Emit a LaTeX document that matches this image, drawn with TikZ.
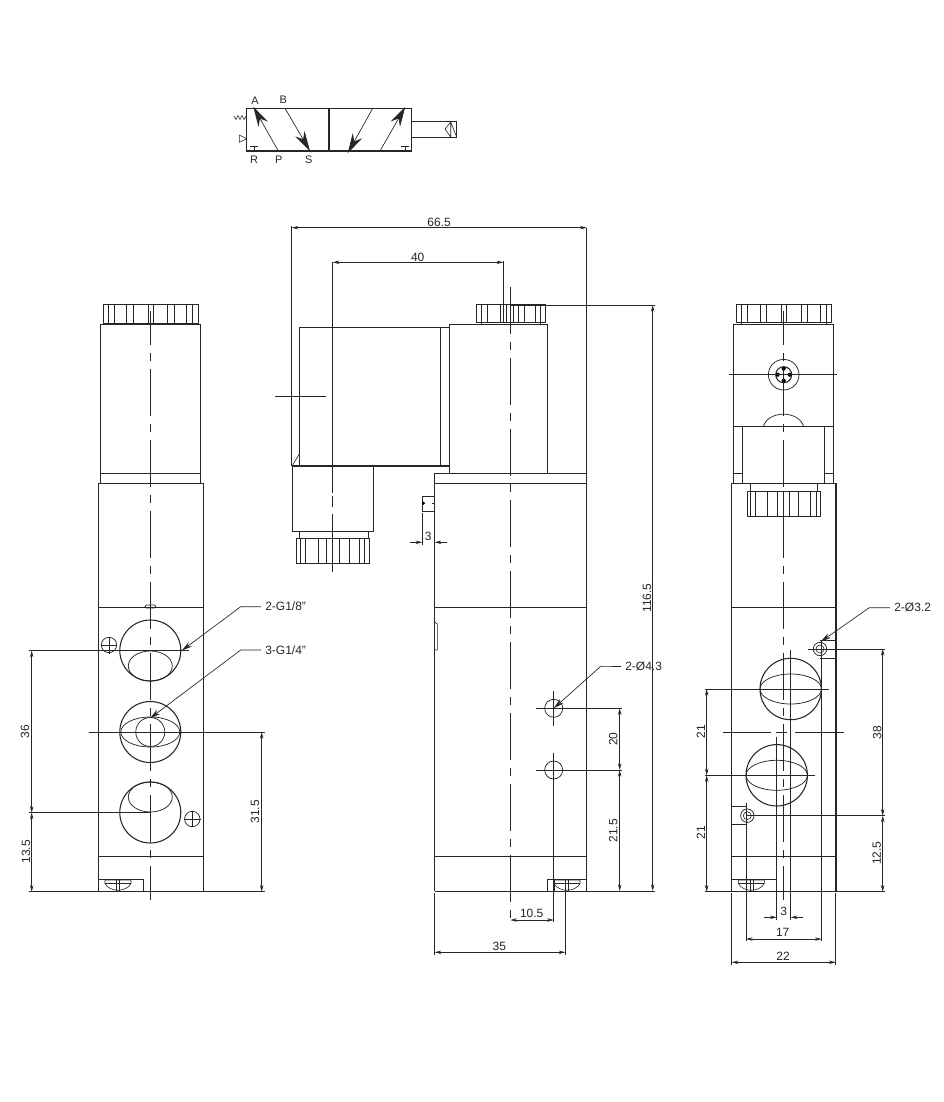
\documentclass[tikz,border=0pt]{standalone}
\usepackage{fontspec}
\setmainfont{Liberation Sans}
\usetikzlibrary{arrows.meta}
\tikzset{
  lbl/.style={font=\fontsize{9}{10}\selectfont,inner sep=0pt,text=black!85},
  sym/.style={font=\fontsize{8.2}{10}\selectfont,inner sep=0pt,text=black!85},
  ln/.style={line width=.55pt,draw=black!85},
  hv/.style={line width=.8pt,draw=black!85},
  thinl/.style={line width=.45pt,draw=black!85},
  ctr/.style={line width=.55pt,draw=black!85,dash pattern=on 35.25pt off 6pt on 6pt off 6pt},
  dimn/.style={line width=.5pt,draw=black!85,{Stealth[length=5pt,width=2.6pt]}-{Stealth[length=5pt,width=2.6pt]}},
  tipe/.style={line width=.5pt,draw=black!85,-{Stealth[length=5pt,width=2.6pt]}},
  lead/.style={line width=.5pt,draw=black!85,{Stealth[length=8pt,width=4pt]}-},
  flow/.style={line width=.5pt,draw=black!85,-{Stealth[length=15pt,width=8pt]}},
}
\newcommand{\myscrew}[1]{%
  \draw[thinl] (#1-13,880) -- (#1+13,880) -- (#1+13,883.5) .. controls (#1+8,892.5) and (#1-8,892.5) .. (#1-13,883.5) -- cycle;
  \draw[thinl] (#1-13,883.5) -- (#1+13,883.5) (#1-1.5,880) -- (#1-1.5,891) (#1+1.5,880) -- (#1+1.5,891);
}
\newcommand{\myhole}[3]{%
  \draw[ln] (#1,#2) circle[radius=#3];
}
\begin{document}
\begin{tikzpicture}[x=.75pt,y=-.75pt]
\useasboundingbox (0,0) rectangle (944,1102);
\fill[white] (0,0) rectangle (944,1102);

% ---------- symbol ----------
\draw[hv] (246.7,108.3) rectangle (411.7,151);
\draw[hv] (329,108.3) -- (329,151);
\draw[flow] (278.3,151) -- (253.3,106.7);
\draw[flow] (285,108.3) -- (310,151);
\draw[flow] (372.7,108.3) -- (347.7,153.3);
\draw[flow] (380,151) -- (405.3,106.7);
\draw[thinl] (250,146.7) -- (257.7,146.7) (253.8,146.7) -- (253.8,151);
\draw[thinl] (401,146.7) -- (409,146.7) (405,146.7) -- (405,151);
\draw[thinl] (234,116) -- (236,119.5) -- (238,115.5) -- (240,119.5) -- (242,115.5) -- (244,119.5) -- (246.7,115.5);
\draw[thinl] (239.3,135) -- (246.7,138.7) -- (239.3,142.3) -- cycle;
\draw[ln] (411.7,121.7) rectangle (456.7,137.3);
\draw[thinl] (450.7,122) -- (445,129) -- (450.7,137) (450.7,122) -- (450.7,137) (450.7,122) -- (456.7,137);
\node[sym] (tA) at (255,100.3) {A};
\node[sym] (tB) at (283.3,100) {B};
\node[sym] (tR) at (254,159.7) {R};
\node[sym] (tP) at (278.7,160) {P};
\node[sym] (tS) at (308.7,159.7) {S};

% ---------- left view ----------
\draw[ln] (103,304.3) rectangle (198,323);
\foreach \x in {108.3,114.3,126.7,133.3,148.3,153.3,167.7,174.3,186.7,192.3}
  \draw[thinl] (\x,304.3) -- (\x,323);
\draw[thinl] (103,323) -- (108.3,323) (108.3,323) -- (108.3,325) (192.3,323) -- (192.3,325);
\draw[ln] (100.7,483.3) -- (100.7,324.3) -- (200.7,324.3) -- (200.7,483.3);
\draw[ln] (100.7,473.3) -- (200.7,473.3);
\draw[hv] (98.3,891.7) -- (98.3,483.3) -- (203.3,483.3) -- (203.3,891.7);
\draw[ln] (98.3,607.7) -- (203.3,607.7) (98.3,856.7) -- (203.3,856.7);
\draw[thinl,rounded corners=1pt] (145,605) rectangle (155.7,608);
\draw[thinl] (98.3,879.3) -- (143.7,879.3) -- (143.7,891.7);
\myscrew{118}
\draw[ctr,dash phase=9.5pt] (150.3,310.7) -- (150.3,900);
% ports
\draw[hv] (150.3,650.5) circle[radius=30.5];
\draw[ln] (150.3,666) ellipse[x radius=22,y radius=15];
\draw[hv] (150.3,732) circle[radius=30.5];
\draw[ln] (150.3,732) ellipse[x radius=29.5,y radius=15];
\draw[ln] (150.3,732) circle[radius=14.5];
\draw[hv] (150.3,812.5) circle[radius=30.5];
\draw[ln] (150.3,797) ellipse[x radius=22,y radius=15];
\draw[ln] (109,645) circle[radius=7.7];
\draw[thinl] (101,645) -- (117,645) (109,636.7) -- (109,654);
\draw[ln] (192.3,819) circle[radius=7.7];
\draw[thinl] (184,819) -- (200.5,819) (192.3,810.5) -- (192.3,827);
% left extension + dims
\draw[ln] (29,650.7) -- (189,650.7);
\draw[ln] (29,812.7) -- (150.3,812.7);
\draw[ln] (29,891.7) -- (265,891.7);
\draw[ln] (89,732) -- (211.7,732);
\draw[ln] (150.3,732) -- (265,732);
\draw[dimn] (31.7,650.7) -- (31.7,812.7);
\draw[dimn] (31.7,812.7) -- (31.7,891.7);
\draw[dimn] (261.7,732) -- (261.7,891.7);
\node[lbl,rotate=90] (d36) at (25,731.7) {36};
\node[lbl,rotate=90] (d135) at (26,851.7) {13.5};
\node[lbl,rotate=90] (d315) at (255,811.7) {31.5};
\coordinate (t18) at (181.7,650.7);
\coordinate (m18) at (240.7,606.7);
\node[lbl,anchor=west] (l18) at (265,606.7) {2-G1/8"};
\draw[lead] (t18) -- (m18) -- ([xshift=-3pt]l18.west);
\coordinate (t14) at (150,718.3);
\coordinate (m14) at (240.7,650);
\node[lbl,anchor=west] (l14) at (265,650) {3-G1/4"};
\draw[lead] (t14) -- (m14) -- ([xshift=-3pt]l14.west);

% ---------- middle view ----------
\draw[ln] (476.7,304.7) rectangle (545.3,322.7);
\foreach \x in {481.7,487.3,500,503,506,513,518.5,524,535.5,540.5}
  \draw[thinl] (\x,304.7) -- (\x,322.7);
\draw[ln] (449.3,473.3) -- (449.3,324.3) -- (547.3,324.3) -- (547.3,473.3);
\draw[ln] (481.7,322.7) -- (481.7,324.3) (540.5,322.7) -- (540.5,324.3);
% connector
\draw[ln] (299.3,466) -- (299.3,327.3) -- (449.3,327.3);
\draw[ln] (440.7,327.3) -- (440.7,466);
\draw[hv] (292,466) -- (449.3,466);
\draw[ln] (373.7,466) -- (373.7,531) -- (292,531) -- (292,466);
\draw[thinl] (292,466) -- (299.3,454);
\draw[ln] (299.3,531) -- (299.3,538.3) (368.3,531) -- (368.3,538.3);
\draw[ln] (296.7,538.3) rectangle (369,563.3);
\foreach \x in {300.7,305.7,318.3,326.7,339,349,359.3,364.3}
  \draw[thinl] (\x,538.3) -- (\x,563.3);
% body
\draw[hv] (434.7,891) -- (434.7,473.3) -- (586.7,473.3);
\draw[hv] (449.3,473.3) -- (586.7,473.3);
\draw[hv] (586.7,228) -- (586.7,891);
\draw[ln] (434.7,483.3) -- (586.7,483.3);
\draw[ln] (434.7,607.7) -- (586.7,607.7);
\draw[ln] (434.7,856.7) -- (586.7,856.7);
\draw[thinl] (434.7,622) -- (437.3,624) -- (437.3,650) -- (434.7,650);
\draw[thinl] (434.7,496) -- (422.3,496) -- (422.3,511.7) -- (434.7,511.7);
\fill[black] (423.5,503.3) circle[radius=1.6];
\draw[thinl] (432,503.3) -- (434.7,503.3);
\draw[ln] (547,891) -- (547,879) -- (586.7,879);
\draw[ln] (554,879) -- (554,891);
\myscrew{567}
\draw[ctr] (510.7,287.3) -- (510.7,921);
% holes
\draw[ln] (553.7,708.3) circle[radius=9];
\draw[ln] (553.7,770) circle[radius=9];
\draw[thinl] (536,708.3) -- (621.7,708.3) (553.7,691) -- (553.7,726);
\draw[thinl] (536,770) -- (621.7,770) (553.7,752.7) -- (553.7,922);
% dims
\draw[ln] (291.7,226) -- (291.7,466);
\draw[ln] (332.7,262.3) -- (332.7,493) (332.7,496) -- (332.7,506.7) (332.7,514) -- (332.7,572);
\draw[ln] (503.3,260.5) -- (503.3,323);
\draw[ln] (275,396.7) -- (326,396.7);
\draw[dimn] (291.7,227.7) -- (586.7,227.7);
\draw[dimn] (332.7,262.3) -- (503.3,262.3);
\node[lbl] (d665) at (439,222.3) {66.5};
\node[lbl] (d40) at (417.7,257) {40};
\draw[ln] (422.3,513) -- (422.3,544.5);
\draw[tipe] (410,542.3) -- (422.3,542.3);
\draw[tipe] (446.7,542.3) -- (434.7,542.3);
\node[lbl] (d3a) at (428.3,536.7) {3};
\draw[ln] (510,305) -- (655,305);
\draw[ln] (434.7,891) -- (655,891);
\draw[dimn] (652.7,305) -- (652.7,891);
\node[lbl,rotate=90] (d1165) at (647,598) {116.5};
\draw[dimn] (619.7,708.3) -- (619.7,770);
\draw[dimn] (619.7,770) -- (619.7,891);
\node[lbl,rotate=90] (d20) at (613.3,739.3) {20};
\node[lbl,rotate=90] (d215) at (613.3,830.7) {21.5};
\draw[dimn] (510.3,920) -- (553.7,920);
\node[lbl] (d105) at (531.7,913.3) {10.5};
\draw[ln] (434.7,893) -- (434.7,955) (565.3,891) -- (565.3,955);
\draw[dimn] (434.7,952.3) -- (565.3,952.3);
\node[lbl] (d35) at (499.3,946.7) {35};
\coordinate (t43) at (553.7,708.3);
\coordinate (m43) at (600.7,666.3);
\node[lbl,anchor=west] (l43) at (625,666.5) {2-Ø4.3};
\draw[lead] (t43) -- (m43) -- ([xshift=-3pt]l43.west);

% ---------- right view ----------
\draw[ln] (736,304.7) rectangle (831,322.7);
\foreach \x in {741.7,747.7,760,766,781.7,786,801,807.3,820.7,826}
  \draw[thinl] (\x,304.7) -- (\x,322.7);
\draw[ln] (741.7,322.7) -- (741.7,324.3) (826,322.7) -- (826,324.3);
\draw[ln] (733.7,483.3) -- (733.7,324.3) -- (833.3,324.3) -- (833.3,483.3);
\draw[ln] (733.7,426.7) -- (833.3,426.7);
\draw[ln] (742.7,426.7) -- (742.7,483.3) (824.3,426.7) -- (824.3,483.3);
\draw[ln] (733.7,473.3) -- (742.7,473.3) (824.3,473.3) -- (833.3,473.3);
\draw[ln] (763.3,426.7) .. controls (768,410) and (799,410) .. (803.7,426.7);
\draw[ln] (783.7,374.7) circle[radius=15.3];
\draw[hv] (783.7,374.7) circle[radius=8];
\foreach \a/\b in {-6/0,6/0,0/-6,0/6}
  \fill[black] (783.7+\a,374.7+\b) circle[radius=2.1];
\draw[ln] (729,374.7) -- (837,374.7);
\draw[hv] (731.5,891.7) -- (731.5,483.3) -- (836,483.3) -- (836,891.7);
\draw[ln] (750,483.3) -- (750,491.3) (817.3,483.3) -- (817.3,491.3);
\draw[ln] (747.3,491.3) rectangle (820,516.7);
\foreach \x in {750,755.7,767.7,777.7,783.7,789.3,798.3,810,816.7}
  \draw[thinl] (\x,491.3) -- (\x,516.7);
\draw[ln] (731.7,607.7) -- (835.7,607.7) (731.7,856.7) -- (835.7,856.7);
\draw[ctr,dash phase=9.5pt] (783.7,310.7) -- (783.7,900);
\draw[hv] (790.7,689) circle[radius=30.7];
\draw[ln] (790.7,689) ellipse[x radius=30.7,y radius=15];
\draw[hv] (776.7,775.3) circle[radius=30.7];
\draw[ln] (776.7,775.3) ellipse[x radius=30.7,y radius=15];
\draw[ln] (722.7,732.7) -- (771,732.7) (776,732.7) -- (787,732.7) (795,732.7) -- (844.3,732.7);
\draw[ln] (705,689) -- (829.3,689);
\draw[ln] (705,775.3) -- (815.3,775.3);
\draw[ln] (790.7,650) -- (790.7,920);
\draw[ln] (776.7,736.7) -- (776.7,920);
% small holes and tabs
\draw[ln] (820,649) circle[radius=6.7];
\draw[thinl] (820,649) circle[radius=4];
\draw[ln] (820,640.7) -- (835.7,640.7) (820,658) -- (835.7,658);
\draw[ln] (747.3,815.7) circle[radius=6.7];
\draw[thinl] (747.3,815.7) circle[radius=4];
\draw[ln] (731.7,806.7) -- (747.3,806.7) (731.7,824.7) -- (747.3,824.7);
\draw[ln] (808,649) -- (885,649);
\draw[ln] (747,815.7) -- (885,815.7);
\draw[ln] (821.7,640.7) -- (821.7,941);
\draw[ln] (746,803) -- (746,941);
\draw[ln] (731.7,879.3) -- (776.7,879.3);
\myscrew{751.3}
\draw[ln] (705,891.7) -- (885,891.7);
\draw[ln] (731.7,893) -- (731.7,965) (835.7,893) -- (835.7,965);
\draw[dimn] (882.7,649) -- (882.7,815.7);
\draw[dimn] (882.7,815.7) -- (882.7,891.7);
\draw[dimn] (706.7,689) -- (706.7,775.3);
\draw[dimn] (706.7,775.3) -- (706.7,891.7);
\node[lbl,rotate=90] (d21a) at (701,731.7) {21};
\node[lbl,rotate=90] (d21b) at (701,832.7) {21};
\node[lbl,rotate=90] (d38) at (877.3,732.7) {38};
\node[lbl,rotate=90] (d125) at (876.7,853.3) {12.5};
\draw[tipe] (764,917.3) -- (776.7,917.3);
\draw[tipe] (802.7,917.3) -- (790.7,917.3);
\node[lbl] (d3b) at (783.7,911.7) {3};
\draw[dimn] (746,939) -- (821.7,939);
\node[lbl] (d17) at (782.7,932) {17};
\draw[dimn] (731.7,962.3) -- (835.7,962.3);
\node[lbl] (d22) at (783,956.7) {22};
\coordinate (t32) at (820.7,641.7);
\coordinate (m32) at (869.3,607.7);
\node[lbl,anchor=west] (l32) at (894,607.7) {2-Ø3.2};
\draw[lead] (t32) -- (m32) -- ([xshift=-3pt]l32.west);
\end{tikzpicture}
\end{document}
